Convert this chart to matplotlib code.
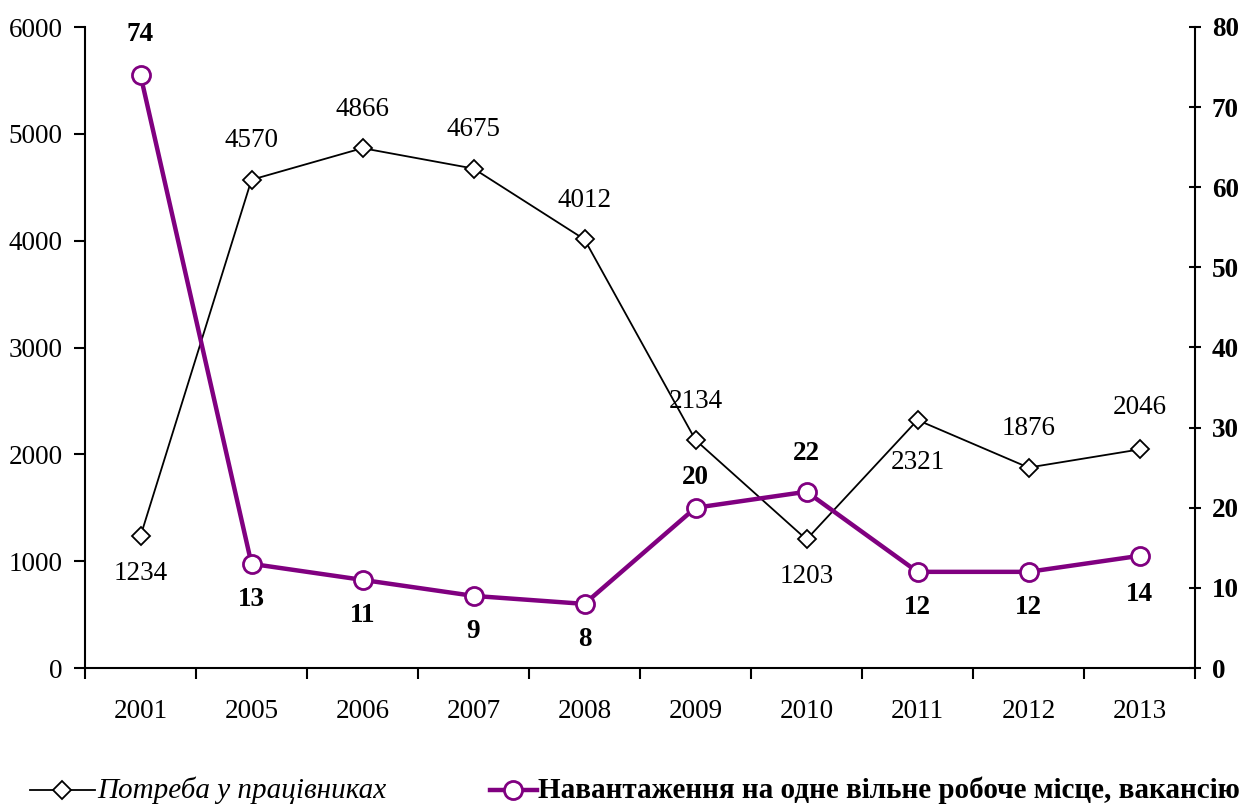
import matplotlib
matplotlib.use("Agg")
import matplotlib.pyplot as plt
from matplotlib.lines import Line2D

years = ["2001", "2005", "2006", "2007", "2008", "2009", "2010", "2011", "2012", "2013"]
demand = [1234, 4570, 4866, 4675, 4012, 2134, 1203, 2321, 1876, 2046]
load = [74, 13, 11, 9, 8, 20, 22, 12, 12, 14]
left_ticks = [0, 1000, 2000, 3000, 4000, 5000, 6000]
right_ticks = [0, 10, 20, 30, 40, 50, 60, 70, 80]
label_demand = "Потреба у працівниках"
label_load = "Навантаження на одне вільне робоче місце, вакансію"

plt.rcParams['font.family'] = ['Liberation Serif', 'DejaVu Serif']
PURPLE = "#800080"
FS = 19.5
LFS = 21

W, H = 1250, 805
fig = plt.figure(figsize=(W / 100, H / 100), dpi=100)
ax = fig.add_axes([85 / W, 1 - 668 / H, 1110 / W, 641 / H])
ax2 = ax.twinx()

x = list(range(len(years)))
black_style = dict(color="black", lw=1.3, marker="D", markersize=9,
                   markerfacecolor="white", markeredgecolor="black", markeredgewidth=1.3)
purple_style = dict(color=PURPLE, lw=3.2, marker="o", markersize=13,
                    markerfacecolor="white", markeredgecolor=PURPLE, markeredgewidth=2)
ax.plot(x, demand, zorder=3, **black_style)
ax2.plot(x, load, zorder=3, **purple_style)

# label offsets in pixels (layout only)
demand_off = [-37, 39, 39, 39, 39, 39, -37, -42, 39, 42]
load_off = [41, -36, -36, -36, -36, 30, 38, -36, -36, -39]
for xi, v, off in zip(x, demand, demand_off):
    ax.annotate(str(v), (xi, v), xytext=(0, off), textcoords="offset pixels",
                ha="center", va="center", fontsize=FS)
for xi, v, off in zip(x, load, load_off):
    ax2.annotate(str(v), (xi, v), xytext=(0, off), textcoords="offset pixels",
                 ha="center", va="center", fontsize=FS, fontweight="bold")

ax.set_xlim(-0.5, len(years) - 0.5)
ax.set_ylim(0, 6000)
ax2.set_ylim(0, 80)
ax.set_yticks(left_ticks)
ax.set_yticklabels([str(t) for t in left_ticks], fontsize=FS)
ax2.set_yticks(right_ticks)
ax2.set_yticklabels([str(t) for t in right_ticks], fontsize=FS, fontweight="bold")

ax.set_xticks(x)
ax.set_xticklabels(years, fontsize=FS)
ax.tick_params(axis="x", which="major", length=0, pad=22)
ax.set_xticks([i - 0.5 for i in range(len(years) + 1)], minor=True)
ax.tick_params(axis="x", which="minor", length=8, width=1.5, direction="out")
ax.tick_params(axis="y", length=8, width=1.5, direction="out", pad=8)
ax2.tick_params(axis="y", length=8, width=1.5, direction="inout", pad=8)

for a in (ax, ax2):
    a.spines["top"].set_visible(False)
    for s in ("left", "right", "bottom"):
        a.spines[s].set_linewidth(1.5)
ax.spines["right"].set_visible(False)
ax2.spines["left"].set_visible(False)
ax2.spines["bottom"].set_visible(False)

# Legend (drawn in figure pixel coordinates)
ly = 1 - 790 / H
h1 = Line2D([30 / W, 62 / W, 95 / W], [ly, ly, ly], transform=fig.transFigure,
            markevery=[1], **black_style)
h2 = Line2D([490 / W, 513 / W, 537 / W], [ly, ly, ly], transform=fig.transFigure,
            markevery=[1], **purple_style)
fig.add_artist(h1)
fig.add_artist(h2)
fig.text(97 / W, ly, label_demand, fontsize=LFS, style="italic", va="center")
fig.text(538 / W, ly, label_load, fontsize=LFS, fontweight="bold", va="center")

fig.savefig("out.png", dpi=100)
